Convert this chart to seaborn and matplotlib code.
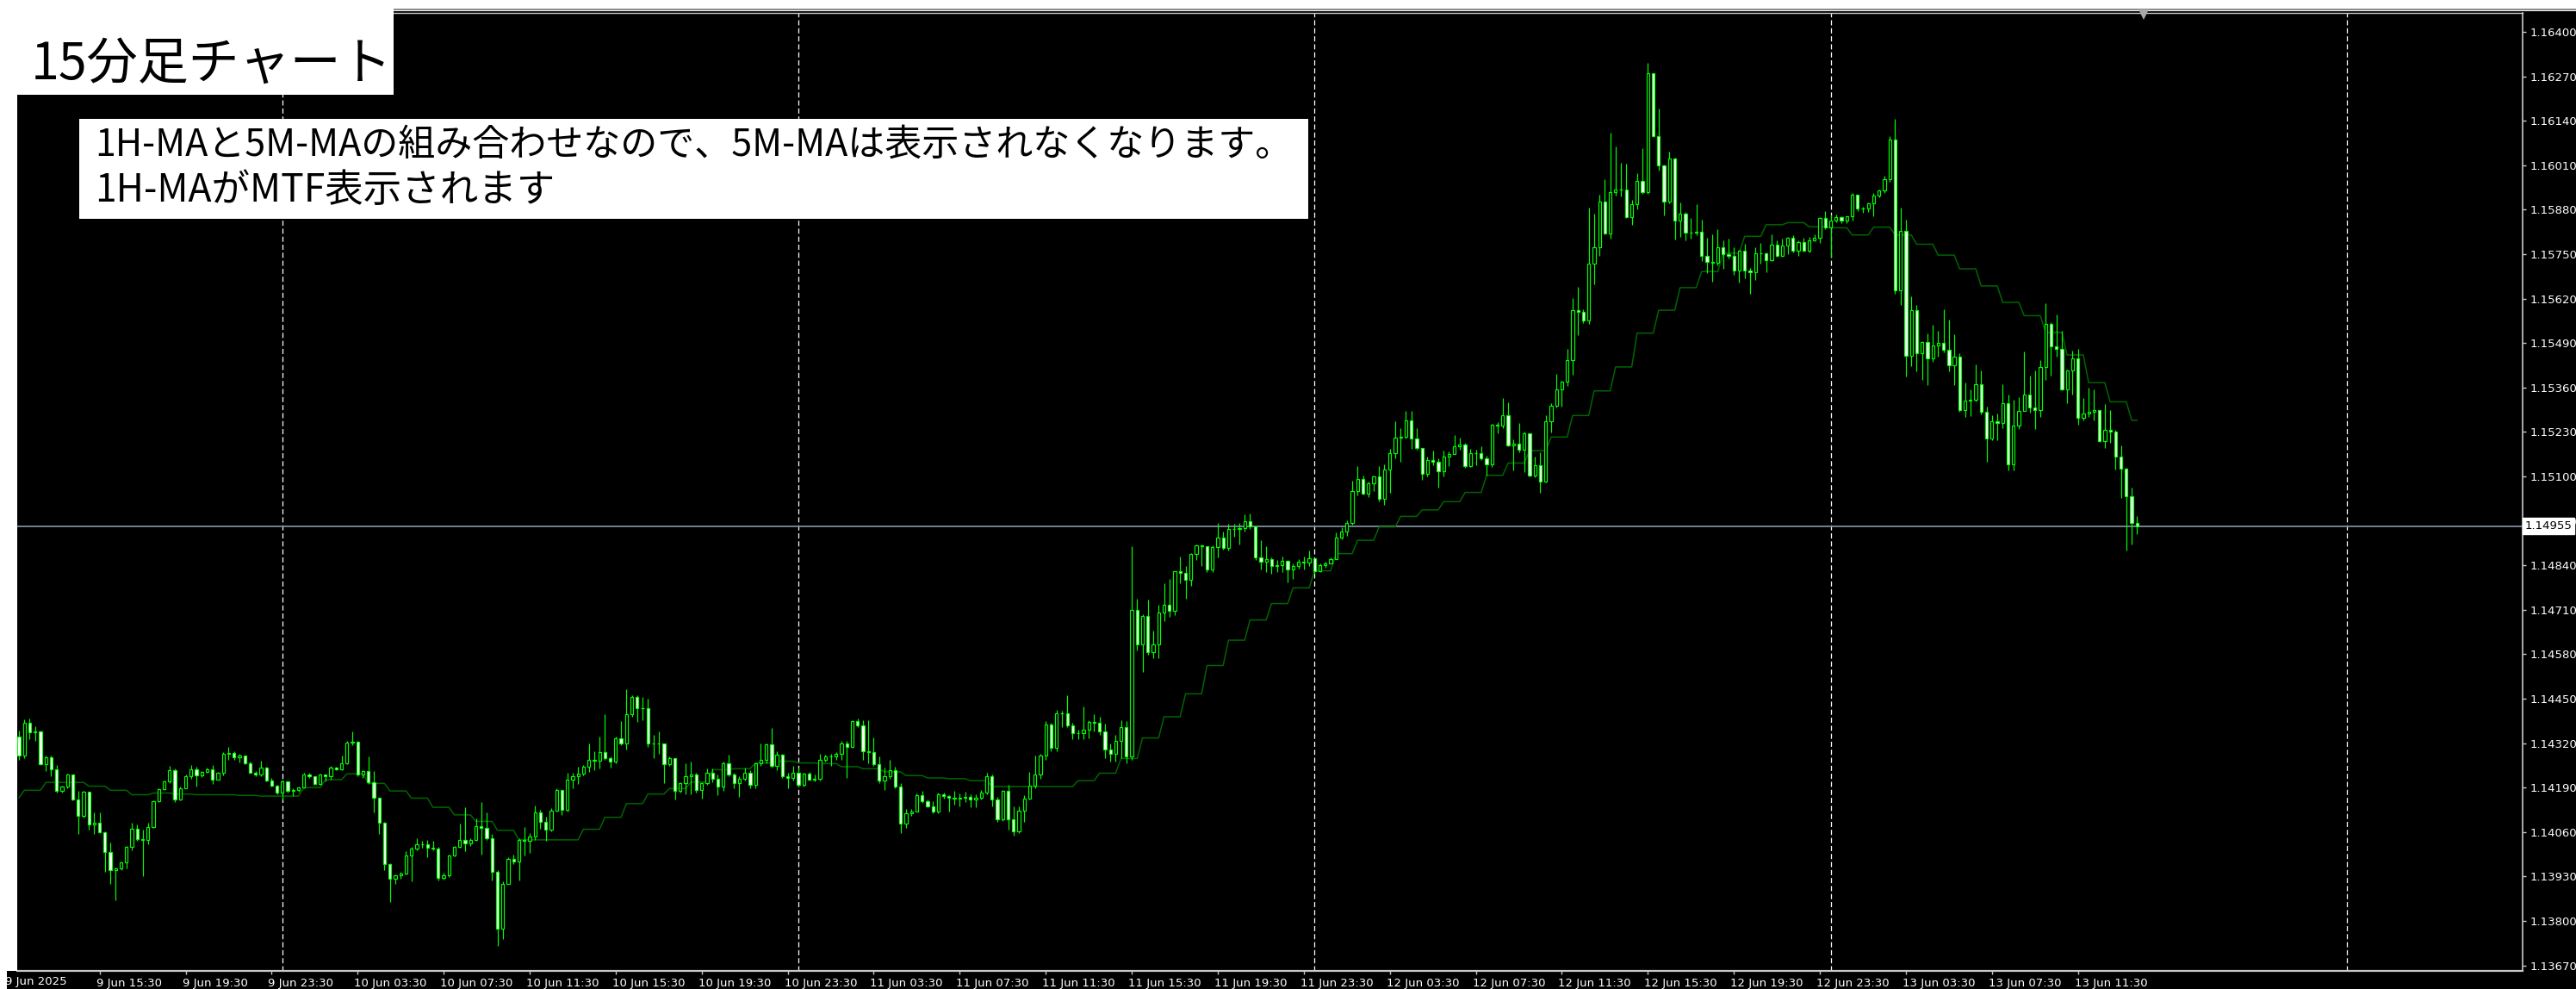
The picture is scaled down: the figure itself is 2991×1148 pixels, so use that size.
import numpy as np
import pandas as pd
import seaborn as sns
import matplotlib.pyplot as plt
from matplotlib.patches import Rectangle
from matplotlib.lines import Line2D
from matplotlib.transforms import ScaledTranslation, blended_transform_factory

# EURUSD M15 bars, 9 Jun 11:45 -> 13 Jun 14:15 (open = previous close)
first_open = 1.14339

close_jun09 = [1.14283, 1.14379, 1.14352, 1.14353, 1.14258, 1.14279, 1.14244, 1.14180, 1.14192, 1.14227, 1.14154, 1.14108,
               1.14177, 1.14083, 1.14086, 1.14059, 1.14001, 1.13949, 1.13954, 1.13970, 1.14016, 1.14070, 1.14039, 1.14037,
               1.14075, 1.14150, 1.14185, 1.14207, 1.14241, 1.14154, 1.14188, 1.14224, 1.14244, 1.14226, 1.14236, 1.14244,
               1.14213, 1.14232, 1.14289, 1.14291, 1.14278, 1.14283, 1.14261, 1.14234, 1.14227, 1.14249, 1.14211, 1.14196,
               1.14174]
high_jun09 = [1.14356, 1.14389, 1.14391, 1.14368, 1.14356, 1.14284, 1.14283, 1.14255, 1.14196, 1.14230, 1.14229, 1.14180,
              1.14180, 1.14177, 1.14117, 1.14117, 1.14062, 1.14028, 1.13957, 1.13974, 1.14020, 1.14087, 1.14083, 1.14066,
              1.14087, 1.14152, 1.14188, 1.14211, 1.14253, 1.14247, 1.14192, 1.14227, 1.14255, 1.14251, 1.14238, 1.14249,
              1.14255, 1.14236, 1.14293, 1.14310, 1.14295, 1.14289, 1.14283, 1.14266, 1.14238, 1.14268, 1.14251, 1.14219,
              1.14198]
low_jun09 = [1.14272, 1.14276, 1.14331, 1.14326, 1.14255, 1.14238, 1.14222, 1.14175, 1.14174, 1.14188, 1.14152, 1.14054,
             1.14101, 1.14066, 1.14054, 1.14058, 1.13944, 1.13907, 1.13860, 1.13949, 1.13953, 1.14007, 1.14033, 1.13932,
             1.14024, 1.14073, 1.14148, 1.14182, 1.14202, 1.14148, 1.14152, 1.14207, 1.14216, 1.14192, 1.14221, 1.14232,
             1.14200, 1.14221, 1.14226, 1.14272, 1.14272, 1.14263, 1.14258, 1.14232, 1.14224, 1.14222, 1.14209, 1.14192,
             1.14169]

close_jun10 = [1.14207, 1.14180, 1.14182, 1.14190, 1.14229, 1.14222, 1.14200, 1.14227, 1.14222, 1.14249, 1.14244, 1.14261,
               1.14321, 1.14323, 1.14227, 1.14239, 1.14205, 1.14159, 1.14087, 1.13967, 1.13924, 1.13934, 1.13939, 1.13991,
               1.14011, 1.14024, 1.14023, 1.14013, 1.14011, 1.13925, 1.13934, 1.13991, 1.14017, 1.14037, 1.14026, 1.14037,
               1.14076, 1.14073, 1.14041, 1.13944, 1.13777, 1.13908, 1.13980, 1.13974, 1.14037, 1.14033, 1.14048, 1.14117,
               1.14090, 1.14068, 1.14123, 1.14184, 1.14125, 1.14213, 1.14222, 1.14230, 1.14251, 1.14271, 1.14268, 1.14293,
               1.14275, 1.14267, 1.14334, 1.14320, 1.14405, 1.14456, 1.14423, 1.14423, 1.14319, 1.14319, 1.14319, 1.14258,
               1.14275, 1.14180, 1.14202, 1.14223, 1.14228, 1.14184, 1.14204, 1.14232, 1.14215, 1.14193, 1.14262, 1.14228,
               1.14202, 1.14216, 1.14232, 1.14199, 1.14260, 1.14271, 1.14317, 1.14254, 1.14286, 1.14223, 1.14219, 1.14232]
high_jun10 = [1.14213, 1.14209, 1.14188, 1.14192, 1.14234, 1.14232, 1.14224, 1.14230, 1.14229, 1.14253, 1.14251, 1.14284,
              1.14326, 1.14354, 1.14326, 1.14242, 1.14280, 1.14238, 1.14160, 1.14090, 1.13969, 1.13936, 1.13944, 1.14003,
              1.14016, 1.14041, 1.14034, 1.14037, 1.14033, 1.14016, 1.13940, 1.13995, 1.14020, 1.14085, 1.14133, 1.14041,
              1.14100, 1.14148, 1.14117, 1.14054, 1.13949, 1.13915, 1.13986, 1.13995, 1.14041, 1.14075, 1.14058, 1.14138,
              1.14125, 1.14104, 1.14129, 1.14188, 1.14171, 1.14234, 1.14234, 1.14251, 1.14255, 1.14319, 1.14297, 1.14338,
              1.14405, 1.14280, 1.14338, 1.14384, 1.14477, 1.14459, 1.14459, 1.14456, 1.14449, 1.14345, 1.14355, 1.14320,
              1.14280, 1.14275, 1.14206, 1.14262, 1.14267, 1.14232, 1.14206, 1.14245, 1.14245, 1.14228, 1.14265, 1.14286,
              1.14232, 1.14223, 1.14249, 1.14242, 1.14262, 1.14319, 1.14320, 1.14364, 1.14297, 1.14288, 1.14234, 1.14254]
low_jun10 = [1.14154, 1.14175, 1.14165, 1.14177, 1.14188, 1.14219, 1.14197, 1.14198, 1.14207, 1.14212, 1.14241, 1.14241,
             1.14258, 1.14313, 1.14224, 1.14217, 1.14200, 1.14117, 1.14054, 1.13949, 1.13856, 1.13907, 1.13924, 1.13936,
             1.13915, 1.14007, 1.14014, 1.13986, 1.14007, 1.13919, 1.13922, 1.13928, 1.13989, 1.14014, 1.14003, 1.14020,
             1.14033, 1.13995, 1.14037, 1.13919, 1.13726, 1.13747, 1.13907, 1.13965, 1.13917, 1.13991, 1.13999, 1.14037,
             1.14070, 1.14033, 1.14062, 1.14121, 1.14110, 1.14121, 1.14188, 1.14200, 1.14226, 1.14236, 1.14240, 1.14245,
             1.14271, 1.14249, 1.14262, 1.14314, 1.14301, 1.14397, 1.14381, 1.14388, 1.14310, 1.14275, 1.14288, 1.14202,
             1.14254, 1.14154, 1.14176, 1.14171, 1.14171, 1.14176, 1.14158, 1.14197, 1.14206, 1.14167, 1.14180, 1.14223,
             1.14189, 1.14162, 1.14210, 1.14189, 1.14189, 1.14254, 1.14262, 1.14249, 1.14241, 1.14219, 1.14189, 1.14210]

close_jun11 = [1.14197, 1.14230, 1.14213, 1.14216, 1.14271, 1.14280, 1.14282, 1.14288, 1.14319, 1.14310, 1.14384, 1.14371,
               1.14297, 1.14294, 1.14258, 1.14210, 1.14223, 1.14241, 1.14193, 1.14084, 1.14115, 1.14121, 1.14167, 1.14150,
               1.14136, 1.14119, 1.14171, 1.14164, 1.14161, 1.14158, 1.14161, 1.14162, 1.14154, 1.14161, 1.14176, 1.14223,
               1.14154, 1.14097, 1.14180, 1.14097, 1.14063, 1.14123, 1.14158, 1.14196, 1.14228, 1.14284, 1.14375, 1.14306,
               1.14407, 1.14407, 1.14372, 1.14349, 1.14349, 1.14358, 1.14381, 1.14379, 1.14353, 1.14301, 1.14288, 1.14326,
               1.14366, 1.14280, 1.14709, 1.14608, 1.14692, 1.14586, 1.14608, 1.14701, 1.14725, 1.14707, 1.14822, 1.14818,
               1.14797, 1.14873, 1.14899, 1.14896, 1.14829, 1.14894, 1.14921, 1.14891, 1.14947, 1.14947, 1.14949, 1.14968,
               1.14953, 1.14864, 1.14851, 1.14857, 1.14839, 1.14841, 1.14854, 1.14827, 1.14838, 1.14850, 1.14848, 1.14861]
high_jun11 = [1.14249, 1.14234, 1.14236, 1.14228, 1.14288, 1.14286, 1.14288, 1.14293, 1.14327, 1.14327, 1.14388, 1.14392,
              1.14388, 1.14388, 1.14336, 1.14280, 1.14249, 1.14271, 1.14251, 1.14202, 1.14128, 1.14128, 1.14173, 1.14180,
              1.14154, 1.14149, 1.14176, 1.14176, 1.14167, 1.14180, 1.14173, 1.14178, 1.14171, 1.14171, 1.14182, 1.14232,
              1.14228, 1.14162, 1.14184, 1.14197, 1.14136, 1.14135, 1.14167, 1.14236, 1.14284, 1.14288, 1.14384, 1.14379,
              1.14418, 1.14414, 1.14459, 1.14379, 1.14358, 1.14427, 1.14388, 1.14405, 1.14397, 1.14378, 1.14319, 1.14345,
              1.14388, 1.14384, 1.14896, 1.14743, 1.14698, 1.14739, 1.14648, 1.14725, 1.14788, 1.14800, 1.14824, 1.14866,
              1.14837, 1.14875, 1.14902, 1.14902, 1.14896, 1.14899, 1.14965, 1.14938, 1.14962, 1.14962, 1.14965, 1.14989,
              1.14992, 1.14953, 1.14914, 1.14896, 1.14863, 1.14855, 1.14866, 1.14855, 1.14845, 1.14857, 1.14866, 1.14884]
low_jun11 = [1.14193, 1.14193, 1.14210, 1.14208, 1.14210, 1.14267, 1.14254, 1.14271, 1.14271, 1.14219, 1.14306, 1.14366,
             1.14271, 1.14262, 1.14254, 1.14202, 1.14184, 1.14215, 1.14189, 1.14058, 1.14071, 1.14106, 1.14119, 1.14145,
             1.14132, 1.14115, 1.14115, 1.14158, 1.14119, 1.14141, 1.14136, 1.14147, 1.14132, 1.14132, 1.14154, 1.14171,
             1.14136, 1.14089, 1.14093, 1.14067, 1.14050, 1.14058, 1.14089, 1.14154, 1.14189, 1.14215, 1.14271, 1.14297,
             1.14297, 1.14366, 1.14366, 1.14332, 1.14332, 1.14332, 1.14334, 1.14353, 1.14345, 1.14275, 1.14267, 1.14267,
             1.14275, 1.14262, 1.14271, 1.14590, 1.14527, 1.14579, 1.14569, 1.14568, 1.14677, 1.14689, 1.14695, 1.14788,
             1.14743, 1.14779, 1.14855, 1.14837, 1.14819, 1.14821, 1.14864, 1.14887, 1.14882, 1.14923, 1.14900, 1.14938,
             1.14945, 1.14855, 1.14827, 1.14821, 1.14815, 1.14819, 1.14819, 1.14791, 1.14800, 1.14830, 1.14828, 1.14839]

close_jun12 = [1.14824, 1.14841, 1.14845, 1.14858, 1.14921, 1.14938, 1.14963, 1.15056, 1.15092, 1.15050, 1.15079, 1.15100,
               1.15035, 1.15121, 1.15169, 1.15214, 1.15215, 1.15264, 1.15211, 1.15184, 1.15107, 1.15149, 1.15143, 1.15116,
               1.15159, 1.15166, 1.15188, 1.15193, 1.15130, 1.15169, 1.15168, 1.15152, 1.15136, 1.15251, 1.15249, 1.15278,
               1.15190, 1.15195, 1.15178, 1.15226, 1.15103, 1.15132, 1.15085, 1.15262, 1.15307, 1.15355, 1.15376, 1.15440,
               1.15586, 1.15582, 1.15555, 1.15721, 1.15771, 1.15904, 1.15811, 1.15931, 1.15939, 1.15940, 1.15859, 1.15897,
               1.15964, 1.15932, 1.16279, 1.16095, 1.16009, 1.15904, 1.16030, 1.15847, 1.15868, 1.15814, 1.15813, 1.15816,
               1.15746, 1.15728, 1.15724, 1.15771, 1.15751, 1.15744, 1.15703, 1.15759, 1.15701, 1.15697, 1.15753, 1.15753,
               1.15733, 1.15778, 1.15746, 1.15775, 1.15798, 1.15759, 1.15784, 1.15760, 1.15789, 1.15798, 1.15856, 1.15829]
high_jun12 = [1.14857, 1.14846, 1.14851, 1.14864, 1.14936, 1.14950, 1.14971, 1.15088, 1.15130, 1.15103, 1.15085, 1.15103,
              1.15130, 1.15134, 1.15180, 1.15262, 1.15241, 1.15292, 1.15292, 1.15242, 1.15184, 1.15157, 1.15175, 1.15152,
              1.15175, 1.15172, 1.15220, 1.15214, 1.15197, 1.15180, 1.15178, 1.15188, 1.15161, 1.15253, 1.15258, 1.15328,
              1.15316, 1.15208, 1.15256, 1.15231, 1.15226, 1.15157, 1.15170, 1.15280, 1.15313, 1.15400, 1.15379, 1.15472,
              1.15622, 1.15654, 1.15589, 1.15886, 1.15868, 1.15924, 1.15969, 1.16106, 1.16066, 1.16016, 1.16014, 1.15908,
              1.15987, 1.16061, 1.16309, 1.16279, 1.16176, 1.16012, 1.16050, 1.16032, 1.15901, 1.15874, 1.15856, 1.15897,
              1.15850, 1.15798, 1.15807, 1.15823, 1.15791, 1.15796, 1.15769, 1.15762, 1.15780, 1.15710, 1.15771, 1.15782,
              1.15754, 1.15807, 1.15791, 1.15796, 1.15800, 1.15805, 1.15791, 1.15798, 1.15800, 1.15809, 1.15859, 1.15877]
low_jun12 = [1.14815, 1.14821, 1.14833, 1.14845, 1.14857, 1.14917, 1.14927, 1.14959, 1.15044, 1.15046, 1.15040, 1.15058,
             1.15028, 1.15016, 1.15052, 1.15152, 1.15143, 1.15211, 1.15181, 1.15178, 1.15089, 1.15100, 1.15133, 1.15067,
             1.15100, 1.15130, 1.15166, 1.15179, 1.15125, 1.15127, 1.15133, 1.15148, 1.15103, 1.15127, 1.15226, 1.15242,
             1.15188, 1.15118, 1.15170, 1.15112, 1.15100, 1.15098, 1.15052, 1.15082, 1.15229, 1.15301, 1.15304, 1.15364,
             1.15397, 1.15514, 1.15548, 1.15546, 1.15661, 1.15744, 1.15809, 1.15796, 1.15922, 1.15919, 1.15856, 1.15835,
             1.15881, 1.15926, 1.15926, 1.16093, 1.15994, 1.15863, 1.15899, 1.15793, 1.15800, 1.15789, 1.15796, 1.15805,
             1.15730, 1.15694, 1.15670, 1.15717, 1.15706, 1.15737, 1.15690, 1.15667, 1.15679, 1.15634, 1.15674, 1.15721,
             1.15697, 1.15730, 1.15742, 1.15742, 1.15751, 1.15755, 1.15746, 1.15757, 1.15754, 1.15787, 1.15782, 1.15823]

close_jun13 = [1.15849, 1.15858, 1.15849, 1.15860, 1.15925, 1.15883, 1.15883, 1.15899, 1.15921, 1.15937, 1.15968, 1.16085,
               1.15644, 1.15817, 1.15453, 1.15586, 1.15460, 1.15493, 1.15444, 1.15484, 1.15491, 1.15471, 1.15426, 1.15449,
               1.15295, 1.15322, 1.15323, 1.15370, 1.15289, 1.15210, 1.15260, 1.15255, 1.15313, 1.15134, 1.15248, 1.15291,
               1.15338, 1.15302, 1.15295, 1.15419, 1.15545, 1.15480, 1.15473, 1.15354, 1.15410, 1.15444, 1.15271, 1.15284,
               1.15289, 1.15295, 1.15203, 1.15235, 1.15230, 1.15158, 1.15122, 1.15041, 1.14963, 1.14955]
high_jun13 = [1.15867, 1.15865, 1.15860, 1.15862, 1.15930, 1.15925, 1.15889, 1.15901, 1.15930, 1.15939, 1.15979, 1.16094,
              1.16146, 1.15885, 1.15851, 1.15626, 1.15601, 1.15496, 1.15518, 1.15543, 1.15525, 1.15588, 1.15559, 1.15516,
              1.15460, 1.15374, 1.15354, 1.15428, 1.15410, 1.15305, 1.15278, 1.15284, 1.15370, 1.15338, 1.15323, 1.15332,
              1.15464, 1.15394, 1.15410, 1.15440, 1.15606, 1.15550, 1.15574, 1.15525, 1.15413, 1.15469, 1.15473, 1.15329,
              1.15359, 1.15354, 1.15295, 1.15311, 1.15295, 1.15237, 1.15190, 1.15125, 1.15068, 1.14985]
low_jun13 = [1.15741, 1.15844, 1.15840, 1.15840, 1.15849, 1.15876, 1.15871, 1.15874, 1.15862, 1.15916, 1.15928, 1.15961,
             1.15635, 1.15601, 1.15392, 1.15422, 1.15408, 1.15383, 1.15368, 1.15435, 1.15451, 1.15462, 1.15408, 1.15368,
             1.15289, 1.15273, 1.15277, 1.15318, 1.15282, 1.15143, 1.15206, 1.15206, 1.15242, 1.15118, 1.15118, 1.15239,
             1.15291, 1.15287, 1.15239, 1.15275, 1.15381, 1.15394, 1.15451, 1.15352, 1.15313, 1.15340, 1.15251, 1.15264,
             1.15275, 1.15264, 1.15201, 1.15183, 1.15197, 1.15120, 1.15037, 1.14884, 1.14900, 1.14931]

# 1H-MA shown on the M15 chart (MTF), one value per hour from 9 Jun 11:00
ma_1h = [1.14160, 1.14182, 1.14205, 1.14205, 1.14194, 1.14182, 1.14169, 1.14174, 1.14171, 1.14169,
         1.14169, 1.14167, 1.14165, 1.14165, 1.14190, 1.14213, 1.14230, 1.14202, 1.14180, 1.14159,
         1.14132, 1.14110, 1.14091, 1.14065, 1.14037, 1.14037, 1.14037, 1.14068, 1.14103, 1.14143,
         1.14171, 1.14187, 1.14206, 1.14242, 1.14245, 1.14262, 1.14267, 1.14262, 1.14260, 1.14251,
         1.14245, 1.14236, 1.14225, 1.14218, 1.14216, 1.14210, 1.14193, 1.14193, 1.14193, 1.14193,
         1.14210, 1.14232, 1.14275, 1.14335, 1.14397, 1.14464, 1.14547, 1.14621, 1.14680, 1.14728,
         1.14774, 1.14824, 1.14874, 1.14913, 1.14952, 1.14983, 1.15002, 1.15026, 1.15053, 1.15103,
         1.15139, 1.15175, 1.15215, 1.15278, 1.15350, 1.15420, 1.15519, 1.15586, 1.15652, 1.15699,
         1.15753, 1.15802, 1.15836, 1.15842, 1.15830, 1.15827, 1.15806, 1.15829, 1.15806, 1.15779,
         1.15747, 1.15707, 1.15657, 1.15609, 1.15570, 1.15521, 1.15455, 1.15374, 1.15318, 1.15264]

bid_price = 1.14955

price_ticks = [1.13670, 1.13800, 1.13930, 1.14060, 1.14190, 1.14320, 1.14450, 1.14580, 1.14710, 1.14840, 1.14970,
               1.15100, 1.15230, 1.15360, 1.15490, 1.15620, 1.15750, 1.15880, 1.16010, 1.16140, 1.16270, 1.16400]
time_labels = ['9 Jun 15:30', '9 Jun 19:30', '9 Jun 23:30', '10 Jun 03:30', '10 Jun 07:30', '10 Jun 11:30',
               '10 Jun 15:30', '10 Jun 19:30', '10 Jun 23:30', '11 Jun 03:30', '11 Jun 07:30', '11 Jun 11:30',
               '11 Jun 15:30', '11 Jun 19:30', '11 Jun 23:30', '12 Jun 03:30', '12 Jun 07:30', '12 Jun 11:30',
               '12 Jun 15:30', '12 Jun 19:30', '12 Jun 23:30', '13 Jun 03:30', '13 Jun 07:30', '13 Jun 11:30']
day_starts = ['2025-06-10', '2025-06-11', '2025-06-12', '2025-06-13', '2025-06-14']

title_text = '15分足チャート'
note_lines = ['1H-MAと5M-MAの組み合わせなので、5M-MAは表示されなくなります。',
              '1H-MAがMTF表示されます']

# ---- build the frame
closes = close_jun09 + close_jun10 + close_jun11 + close_jun12 + close_jun13
highs = high_jun09 + high_jun10 + high_jun11 + high_jun12 + high_jun13
lows = low_jun09 + low_jun10 + low_jun11 + low_jun12 + low_jun13
n = min(len(closes), len(highs), len(lows))

t0 = pd.Timestamp('2025-06-09 11:45')
step = pd.Timedelta(minutes=15)
df = pd.DataFrame({'time': pd.date_range(t0, periods=n, freq='15min'),
                   'close': closes[:n], 'high': highs[:n], 'low': lows[:n]})
df['bar'] = np.arange(n)
df['open'] = df['close'].shift(1).fillna(first_open)
df['high'] = df[['high', 'open', 'close']].max(axis=1)
df['low'] = df[['low', 'open', 'close']].min(axis=1)
hour_idx = ((df['time'].dt.floor('h') - t0.floor('h')) / pd.Timedelta(hours=1)).astype(int)
df['ma'] = [ma_1h[min(k, len(ma_1h) - 1)] for k in hour_idx]

def to_bar(ts):
    return (pd.Timestamp(ts) - t0) / step

tick_bars = [to_bar(pd.to_datetime('2025 ' + s, format='%Y %d %b %H:%M')) for s in time_labels]
sep_bars = [to_bar(d) for d in day_starts]

# ---- style
sns.set_theme(style='dark')
plt.rcParams['font.family'] = ['DejaVu Sans']
plt.rcParams['lines.scale_dashes'] = False
JP = ['Noto Sans CJK JP', 'DejaVu Sans']
LIME = '#00ff00'
MA_GREEN = '#006400'
FRAME = '#c8c8c8'

W, H = 2991, 1148
def fx(px):
    return px / W
def fy(py):
    return 1 - py / H

fig = plt.figure(figsize=(W / 100, H / 100), dpi=100, facecolor='black')
ax = fig.add_axes([fx(20), fy(1127), (2929 - 20) / W, (1127 - 15) / H], facecolor='black')

bar0_px, bar_px = 22, 6.242
ax.set_xlim((20 - bar0_px) / bar_px, (2929 - bar0_px) / bar_px)
ax.set_ylim(1.136537, 1.164554)
ax.grid(False)

# period separators
for b in sep_bars:
    ax.axvline(b, color='white', lw=0.9, ls=(0, (4.3, 2.4)), zorder=1)

# bid line
ax.axhline(bid_price, color='#7d8b9c', lw=1.3, zorder=1.2)

# 1H-MA
sns.lineplot(x=df['bar'], y=df['ma'], ax=ax, color=MA_GREEN, linewidth=1.1,
             estimator=None, legend=False, zorder=1.5)

# candles
up = df['close'] >= df['open']
ax.vlines(df['bar'], df['low'], df['high'], color=LIME, lw=0.85, zorder=2)
ax.bar(df['bar'], (df['close'] - df['open']).abs(), bottom=np.minimum(df['open'], df['close']),
       width=0.52, color=np.where(up, 'black', 'white'), edgecolor=LIME, linewidth=0.85, zorder=3)

ax.set_xlabel('')
ax.set_ylabel('')

# spines / ticks
ax.spines['left'].set_visible(False)
for s in ['right', 'top', 'bottom']:
    ax.spines[s].set_visible(True)
    ax.spines[s].set_color(FRAME)
ax.spines['right'].set_linewidth(1.2)
ax.spines['top'].set_linewidth(1.0)
ax.spines['bottom'].set_linewidth(1.6)

ax.yaxis.tick_right()
ax.set_yticks(price_ticks)
ax.set_yticklabels([f'{p:.5f}' for p in price_ticks])
ax.tick_params(axis='y', which='both', right=True, left=False, length=3, width=1, color=FRAME,
               labelcolor='white', labelsize=9.5, pad=3.5)
ax.set_xticks(tick_bars)
ax.set_xticklabels(time_labels)
ax.tick_params(axis='x', bottom=True, length=3, width=1, color=FRAME,
               labelcolor='white', labelsize=9.5, pad=2.5)
shift = ScaledTranslation(-4 / 100, 0, fig.dpi_scale_trans)
for lab in ax.get_xticklabels():
    lab.set_horizontalalignment('left')
    lab.set_transform(lab.get_transform() + shift)

# bid price label on the price scale
bt = blended_transform_factory(ax.transAxes, ax.transData)
ax.text(1.0008, bid_price, f'{bid_price:.5f}', transform=bt, ha='left', va='center',
        fontsize=9.5, color='black', clip_on=False, zorder=10,
        bbox=dict(boxstyle='square,pad=0.2', facecolor='white', edgecolor='white'))

# first date label (cut by the left edge)
fig.text(fx(6), fy(1133), '9 Jun 2025', fontsize=9.5, color='white', ha='left', va='top', zorder=3)

# white margins of the screenshot
fig.add_artist(Rectangle((0, fy(13)), 1, 13 / H, transform=fig.transFigure,
                         facecolor='white', edgecolor='none', zorder=4))
fig.add_artist(Rectangle((0, fy(1127)), fx(20), 1127 / H, transform=fig.transFigure,
                         facecolor='white', edgecolor='none', zorder=4))
fig.add_artist(Rectangle((0, 0), fx(8), 1, transform=fig.transFigure,
                         facecolor='white', edgecolor='none', zorder=4))
fig.add_artist(Line2D([fx(457), 1], [fy(11), fy(11)], transform=fig.transFigure,
                      color='#8c8c8c', lw=1.5, zorder=4.5))
fig.add_artist(Line2D([fx(2489)], [fy(17)], transform=fig.transFigure, marker='v',
                      markersize=9, color='#a8a8a8', markeredgewidth=0, zorder=5))

# title box
fig.add_artist(Rectangle((0, fy(110)), fx(457), 110 / H, transform=fig.transFigure,
                         facecolor='white', edgecolor='none', zorder=5))
fig.text(fx(36), fy(92), title_text, fontsize=42.5, family=JP, color='black',
         ha='left', va='baseline', zorder=6)

# note box
fig.add_artist(Rectangle((fx(92), fy(254)), (1519 - 92) / W, (254 - 138) / H,
                         transform=fig.transFigure, facecolor='white', edgecolor='none', zorder=5))
fig.text(fx(110), fy(181), note_lines[0], fontsize=31, family=JP, color='black',
         ha='left', va='baseline', zorder=6)
fig.text(fx(110), fy(234), note_lines[1], fontsize=32, family=JP, color='black',
         ha='left', va='baseline', zorder=6)

fig.savefig('out.png', dpi=100, facecolor='black')
